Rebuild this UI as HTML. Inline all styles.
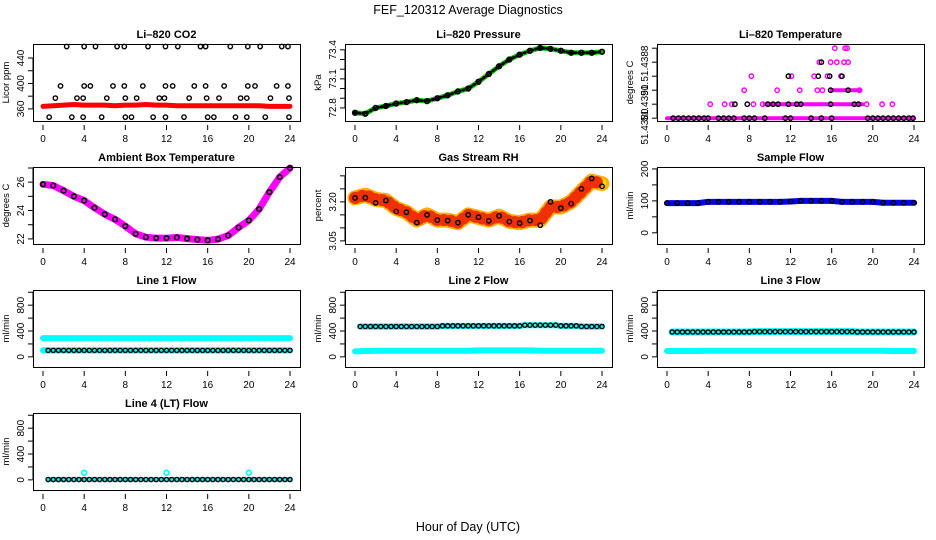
<!DOCTYPE html>
<html><head><meta charset="utf-8"><style>
html,body{margin:0;padding:0;background:#fff}
svg{display:block;font-family:"Liberation Sans",sans-serif}
</style></head><body>
<svg id="chart" width="936" height="540" viewBox="0 0 936 540" xmlns="http://www.w3.org/2000/svg">
<text x="468" y="14" text-anchor="middle" font-size="12.5">FEF_120312  Average Diagnostics</text>
<text x="468" y="531" text-anchor="middle" font-size="12.5">Hour of Day (UTC)</text>
</svg>
<script>
// ---------- data ----------
const hours = [0,1,2,3,4,5,6,7,8,9,10,11,12,13,14,15,16,17,18,19,20,21,22,23,24];
const halfHours = [0.5,1,1.5,2,2.5,3,3.5,4,4.5,5,5.5,6,6.5,7,7.5,8,8.5,9,9.5,10,10.5,11,11.5,12,12.5,13,13.5,14,14.5,15,15.5,16,16.5,17,17.5,18,18.5,19,19.5,20,20.5,21,21.5,22,22.5,23,23.5,24];
const xTicks = [0,4,8,12,16,20,24];

const co2Band = [364,365,366,367,366,366,366,365,366,366,367,366,366,365,365,365,365,365,365,365,365,365,364,364,364];
const co2T = [2.3,4.0,5.1,7.2,7.9,10.2,11.9,13.1,15.3,15.8,18.2,19.9,21.1,23.2,23.8,
              1.7,4.0,4.6,6.8,7.9,9.7,11.9,12.6,14.7,15.8,17.6,19.9,20.6,22.7,23.8,
              1.2,3.3,3.9,6.2,8.0,9.1,11.3,11.8,14.2,15.9,17.1,19.2,19.8,22.1,23.9,
              0.6,2.8,3.9,5.7,8.0,8.6,10.7,11.9,13.7,16.0,16.6,18.7,19.8,21.6,23.9];
const co2V = [458,458,458,458,458,458,458,458,458,458,458,458,458,458,458,
              396,396,396,396,396,396,396,396,396,396,396,396,396,396,396,
              377,377,377,377,377,377,377,377,377,377,377,377,377,377,377,
              347,347,347,347,347,347,347,347,347,347,347,347,347,347,347];

const pressure = [72.75,72.74,72.80,72.82,72.845,72.86,72.88,72.87,72.90,72.93,72.97,73.0,73.07,73.15,73.23,73.30,73.35,73.39,73.42,73.41,73.39,73.37,73.37,73.37,73.38];

const tempMagT = [0,24, 9.5,19, 16,18.8, 16.3,17.3,17.5, 14.8,15.9,16.5,17.2,17.6, 8.2,12.1,14.3,15.6,16.9, 7.5,10.7,12.9,14.6,15.1,18.7, 4.2,5.6,6.3,8.4,9.3,19.4,20.9,21.9];
const tempMagL = [0,0, 1,1, 2,2, 5,5,5, 4,4,4,4,4, 3,3,3,3,3, 2,2,2,2,2,2, 1,1,1,1,1,1,1,1];
const tempBlkT = [0.6,1.1,1.6,2.1,2.6,3.1,3.6,4,5,5.5,6,6.5,7.5,8,8.5,9.5,11.5,12,14,15,16,19.5,20,20.5,21,21.5,22,22.5,23,23.5,23.9,
                  6.6,7.8,9.8,10.3,10.8,11.8,12.6,13,15.9,18.2,18.6, 15.9,17.6, 11.8,14.7,15.8,17, 15];
const tempBlkL = [0,0,0,0,0,0,0,0,0,0,0,0,0,0,0,0,0,0,0,0,0,0,0,0,0,0,0,0,0,0,0,
                  1,1,1,1,1,1,1,1,1,1,1, 2,2, 3,3,3,3, 4];

const ambient = [25.85,25.76,25.4,25.0,24.7,24.2,23.74,23.38,22.9,22.36,22.12,22.05,22.05,22.1,22.02,21.95,21.9,21.98,22.24,22.8,23.3,24.1,25.3,26.36,27.0];

const rhBand = [3.215,3.226,3.21,3.205,3.175,3.16,3.13,3.15,3.13,3.13,3.12,3.15,3.14,3.13,3.145,3.125,3.12,3.13,3.13,3.18,3.18,3.20,3.24,3.28,3.27];
const rhBlack = [3.215,3.216,3.196,3.205,3.163,3.16,3.12,3.15,3.13,3.128,3.12,3.15,3.141,3.127,3.146,3.124,3.118,3.128,3.11,3.20,3.176,3.193,3.25,3.29,3.26];

const sampleFlow = [93,93,93,93,97,97,97,97,97,97,97,97,98,100,100,100,100,97,97,97,97,94,94,94,94];

const line1Cyan = [290,290,290,290,290,290,290,290,290,290,290,290,290,290,290,290,290,290,290,290,290,290,290,290,290];
const line1Black = [100,100,100,100,100,100,100,100,100,100,100,100,100,100,100,100,100,100,100,100,100,100,100,100,100,100,100,100,100,100,100,100,100,100,100,100,100,100,100,100,100,100,100,100,100,100,100,100];
const line2Low = [85,90,95,95,95,95,95,95,95,95,95,95,100,100,100,100,100,100,95,95,95,95,95,95,95];
const line2Black = [470,470,470,470,470,470,470,470,470,470,470,470,470,470,470,470,480,480,480,480,480,480,480,480,480,480,480,480,480,480,480,480,490,490,490,490,490,490,490,480,480,480,480,470,470,470,470,470];
const line3Low = [90,90,90,90,95,95,95,95,95,95,95,95,95,95,95,95,95,95,95,95,95,95,90,90,90];
const line3Black = [385,385,385,385,385,385,385,385,385,385,385,385,385,385,385,385,390,390,390,390,390,390,390,390,390,390,390,390,390,390,390,390,390,390,390,390,385,385,385,385,385,385,385,385,385,385,385,385];
const line4Black = [5,5,5,5,5,5,5,5,5,5,5,5,5,5,5,5,5,5,5,5,5,5,5,5,5,5,5,5,5,5,5,5,5,5,5,5,5,5,5,5,5,5,5,5,5,5,5,5];
const line4SpikeT = [4,12,20];
const line4SpikeV = [110,110,110];

// ---------- rendering ----------
const NS = "http://www.w3.org/2000/svg";
const svg = document.getElementById("chart");
const colLeft = [33,345,657], boxW = 267;
const rowTop = [44,167,290,413], boxH = 77;

function mk(tag, parent){ const e=document.createElementNS(NS,tag); parent.appendChild(e); return e; }

function panel(name, col, row, title, ylab, dom, yTicks, yLabels){
  const L=colLeft[col], T=rowTop[row], R=L+boxW, B=T+boxH;
  const g = mk("g", svg);
  
  
  const sx = v => L+10 + (v/24)*(boxW-20);
  const sy = v => B - (v-dom[0])/(dom[1]-dom[0])*boxH;
  const t = mk("text", g);
  
  
  t.setAttribute("x",(L+R)/2); t.setAttribute("y",T-6); t.setAttribute("text-anchor","middle");
  t.setAttribute("font-size","11"); t.setAttribute("font-weight","bold"); t.textContent=title;
  const yl = mk("text", g);
  
  
  yl.setAttribute("transform",`translate(${L-24},${(T+B)/2}) rotate(-90)`);
  yl.setAttribute("text-anchor","middle"); yl.setAttribute("font-size","9.5"); yl.textContent=ylab;
  const ax = mk("g", g);
  
  
  ax.setAttribute("stroke","#000"); ax.setAttribute("stroke-width","1");
  xTicks.forEach(v=>{ const l=mk("line",ax); l.setAttribute("x1",sx(v)); l.setAttribute("x2",sx(v)); l.setAttribute("y1",B+4); l.setAttribute("y2",B+9);
    const tx=mk("text",g); tx.setAttribute("x",sx(v)); tx.setAttribute("y",B+21); tx.setAttribute("text-anchor","middle"); tx.setAttribute("font-size","10"); tx.textContent=v; });
  const yv = yTicks.map(sy);
  const al = mk("line",ax); al.setAttribute("x1",L); al.setAttribute("x2",L); al.setAttribute("y1",Math.min(...yv)); al.setAttribute("y2",Math.max(...yv));
  yTicks.forEach(v=>{ const l=mk("line",ax); l.setAttribute("x1",L-5); l.setAttribute("x2",L); l.setAttribute("y1",sy(v)); l.setAttribute("y2",sy(v)); });
  yLabels.forEach(p=>{ const tx=mk("text",g); tx.setAttribute("transform",`translate(${L-9},${sy(p[0])}) rotate(-90)`); tx.setAttribute("text-anchor","middle"); tx.setAttribute("font-size","10"); tx.textContent=p[1]; });
  const plot = mk("g", g);
  
  
  const box = mk("rect", g);
  
  
  box.setAttribute("x",L+0.5); box.setAttribute("y",T+0.5); box.setAttribute("width",boxW); box.setAttribute("height",boxH); box.setAttribute("fill","none"); box.setAttribute("stroke","#000");
  return {sx, sy, plot, name};
}
function band(p, xs, ys, color, w, extra){
  const pl = mk("polyline", p.plot);
  
  
  pl.setAttribute("points", xs.map((x,i)=>p.sx(x)+","+p.sy(ys[i])).join(" "));
  pl.setAttribute("fill","none"); pl.setAttribute("stroke",color); pl.setAttribute("stroke-width",w);
  pl.setAttribute("stroke-linejoin","round"); pl.setAttribute("stroke-linecap","round");
  if(extra) pl.setAttribute("stroke-dasharray",extra);
}
function pts(p, xs, ys, color, r, sw){
  xs.forEach((x,i)=>{ const c = mk("circle", p.plot);
    
    
    c.setAttribute("cx",p.sx(x)); c.setAttribute("cy",p.sy(ys[i])); c.setAttribute("r",r||2.2);
    c.setAttribute("fill","none"); c.setAttribute("stroke",color); c.setAttribute("stroke-width",sw||1.4); });
}

// CO2
let p = panel("co2",0,0,"Li\u2013820 CO2","Licor ppm",[341,462],[360,380,400,420,440],[[360,"360"],[400,"400"],[440,"440"]]);
band(p,hours,co2Band,"#f00",5);
pts(p,co2T,co2V,"#000");
// Pressure
p = panel("pressure",1,0,"Li\u2013820 Pressure","kPa",[72.665,73.46],[72.8,72.9,73.0,73.1,73.2,73.3,73.4],[[72.8,"72.8"],[73.1,"73.1"],[73.4,"73.4"]]);
band(p,hours,pressure,"#0c0",5);
band(p,hours,pressure,"#000",3,"1 3");
pts(p,hours,pressure,"#000",2.3,1.7);
// Temperature
p = panel("temperature",2,0,"Li\u2013820 Temperature","degrees C",[-0.2,5.3],[0,1,2,3,4,5],[[-0.6,"51.4380"],[1.1,"51.4390"],[2.1,"51."],[3.9,"51.4388"]]);
band(p,[tempMagT[0],tempMagT[1]],[0,0],"#f0f",4);
band(p,[tempMagT[2],tempMagT[3]],[1,1],"#f0f",4);
band(p,[tempMagT[4],tempMagT[5]],[2,2],"#f0f",4);
pts(p,tempMagT.slice(6),tempMagL.slice(6),"#f0f");
pts(p,tempBlkT,tempBlkL,"#000");
// Ambient
p = panel("ambient",0,1,"Ambient Box Temperature","degrees C",[21.64,27.07],[22,23,24,25,26,27],[[22,"22"],[24,"24"],[26,"26"]]);
band(p,hours,ambient,"#f0f",7);
pts(p,hours,ambient,"#000",2.3,1.6);
// RH
p = panel("gas-rh",1,1,"Gas Stream RH","percent",[3.038,3.334],[3.05,3.10,3.15,3.20,3.25,3.30],[[3.05,"3.05"],[3.20,"3.20"]]);
band(p,hours,rhBand,"#ffb000",15);
band(p,hours,rhBand,"#ffe400",10,"2 2");
band(p,hours,rhBand,"#f03000",12,"1 6");
pts(p,hours,rhBlack,"#000");
// Sample flow
p = panel("sample-flow",2,1,"Sample Flow","ml/min",[-35,206],[0,50,100,150,200],[[0,"0"],[100,"100"],[200,"200"]]);
band(p,hours,sampleFlow,"#00f",6);
pts(p,hours,sampleFlow,"#000",2.2,1.5);
const flowDom=[-157,1035], flowTicks=[0,200,400,600,800,1000], flowLabels=[[0,"0"],[400,"400"],[800,"800"]];
// Line 1
p = panel("line1-flow",0,2,"Line 1 Flow","ml/min",flowDom,flowTicks,flowLabels);
band(p,hours,line1Cyan,"#0ff",6);
band(p,hours,line1Black,"#0ff",6);
pts(p,halfHours,line1Black,"#000",2.1,1.4);
// Line 2
p = panel("line2-flow",1,2,"Line 2 Flow","ml/min",flowDom,flowTicks,flowLabels);
band(p,hours,line2Low,"#0ff",6);
band(p,halfHours,line2Black,"#0ff",6);
pts(p,halfHours,line2Black,"#000",2.1,1.4);
// Line 3
p = panel("line3-flow",2,2,"Line 3 Flow","ml/min",flowDom,flowTicks,flowLabels);
band(p,hours,line3Low,"#0ff",6);
band(p,halfHours,line3Black,"#0ff",7);
pts(p,halfHours,line3Black,"#000",2.1,1.4);
// Line 4
p = panel("line4-flow",0,3,"Line 4 (LT) Flow","ml/min",flowDom,flowTicks,flowLabels);
band(p,halfHours,line4Black,"#0ff",5);
pts(p,line4SpikeT,line4SpikeV,"#0ff",2.4,1.6);
pts(p,halfHours,line4Black,"#000",2.1,1.4);
</script>
</body></html>
